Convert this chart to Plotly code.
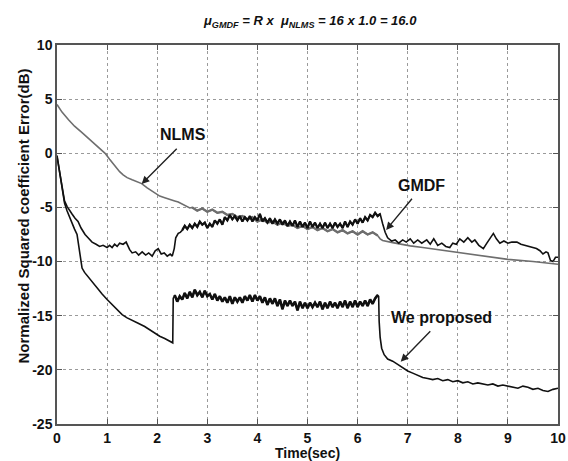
import numpy as np
import plotly.graph_objects as go

# ---------------- data ----------------
# NLMS (gray)
nlms_t = [0.00, 0.10, 0.23, 0.35, 0.50, 0.62, 0.75, 0.85, 0.96, 1.05, 1.15, 1.25, 1.32, 1.40, 1.50,
          1.60, 1.69, 1.80, 1.92, 2.05, 2.15, 2.26, 2.35, 2.42, 2.50, 2.58, 2.65,
          2.7, 2.8, 2.9, 3.0, 3.1, 3.2, 3.3, 3.4, 3.5, 3.6, 3.7, 3.8, 3.9, 4.0, 4.1, 4.2, 4.3, 4.4,
          4.5, 4.6, 4.7, 4.8, 4.9, 5.0, 5.1, 5.2, 5.3, 5.4, 5.5, 5.6, 5.7, 5.8, 5.9, 6.0, 6.1, 6.2,
          6.3, 6.4, 6.45, 6.5, 6.7, 6.9, 7.05, 7.3, 7.6, 8.0, 8.5, 9.0, 9.5, 10.0]
nlms_v = [4.5, 3.8, 3.1, 2.5, 1.9, 1.4, 0.9, 0.4, 0.0, -0.55, -1.15, -1.7, -2.0, -2.25, -2.45,
          -2.6, -2.8, -3.2, -3.6, -3.95, -4.1, -4.3, -4.4, -4.5, -4.7, -4.85, -5.05,
          -5.0, -5.3, -5.1, -5.4, -5.2, -5.5, -5.4, -5.7, -5.6, -5.9, -5.8, -6.1, -5.9, -6.3, -6.1,
          -6.4, -6.3, -6.6, -6.4, -6.7, -6.6, -6.9, -6.7, -7.0, -6.8, -7.1, -6.9, -7.2, -7.0, -7.3,
          -7.1, -7.4, -7.2, -7.5, -7.2, -7.5, -7.3, -7.6, -7.9, -8.05, -8.25, -8.45, -8.55, -8.7,
          -8.9, -9.2, -9.5, -9.8, -10.0, -10.25]

# GMDF (black)
gmdf_t_a = [0.00, 0.05, 0.10, 0.15, 0.20, 0.25, 0.30, 0.36, 0.42, 0.48, 0.56, 0.62, 0.70, 0.78,
            0.85, 0.92, 1.00, 1.05, 1.10, 1.15, 1.20, 1.25, 1.32, 1.38, 1.45, 1.50, 1.57, 1.63,
            1.70, 1.77, 1.83, 1.90, 1.96, 2.02, 2.08, 2.14, 2.20, 2.26, 2.30, 2.34, 2.37, 2.42, 2.46]
gmdf_v_a = [-0.3, -1.8, -3.2, -4.4, -4.9, -5.3, -5.6, -6.0, -6.3, -6.9, -7.5, -7.8, -8.2, -8.4,
            -8.6, -8.5, -8.7, -8.5, -8.7, -8.4, -8.6, -8.3, -8.4, -8.2, -8.9, -9.2, -9.1, -9.4,
            -9.1, -9.4, -9.2, -9.5, -9.0, -8.8, -9.3, -9.2, -9.5, -9.3, -9.5, -8.8, -7.8, -7.4, -7.3]
# noisy band, samples every 0.05 s from 2.50 s to 6.45 s
gmdf_band = [-7.1, -6.7, -7.0, -6.6, -6.9, -6.5, -6.8, -6.3, -6.6, -6.4, -6.9, -6.5, -6.8, -6.2,
             -6.5, -6.1, -6.6, -5.9, -6.2, -5.7, -6.1, -5.8, -6.2, -5.8, -6.3, -5.9, -6.2, -5.8,
             -6.3, -5.9, -6.2, -5.6, -6.3, -6.0, -6.4, -6.0, -6.5, -6.1, -6.5, -6.1, -6.6, -6.2,
             -6.7, -6.3, -6.7, -6.2, -6.8, -6.3, -6.8, -6.4, -6.9, -6.3, -6.8, -6.4, -6.9, -6.5,
             -6.9, -6.4, -6.9, -6.5, -6.9, -6.4, -6.8, -6.5, -6.9, -6.3, -6.8, -6.3, -6.6, -6.1,
             -6.5, -6.0, -6.4, -5.9, -6.2, -5.7, -5.9, -5.5, -5.8, -5.6]
gmdf_t_c = [6.50, 6.55, 6.60, 6.68, 6.75, 6.82, 6.90, 6.97, 7.05, 7.12, 7.20, 7.28, 7.38, 7.45,
            7.52, 7.60, 7.68, 7.76, 7.84, 7.90, 7.97, 8.04, 8.12, 8.20, 8.28, 8.34, 8.42, 8.51,
            8.58, 8.65, 8.71, 8.77, 8.84, 8.92, 9.00, 9.08, 9.18, 9.26, 9.34, 9.42, 9.50, 9.57,
            9.64, 9.70, 9.76, 9.80, 9.85, 9.90, 9.95, 10.0]
gmdf_v_c = [-6.5, -7.3, -7.8, -8.1, -8.0, -8.3, -8.0, -8.2, -7.9, -8.3, -8.0, -8.3, -8.0, -8.4,
            -7.9, -8.5, -8.3, -8.6, -8.7, -8.3, -8.4, -7.9, -8.2, -7.8, -8.2, -8.0, -8.5, -8.8,
            -8.3, -7.8, -7.4, -7.9, -8.3, -8.1, -8.3, -8.2, -8.2, -8.4, -8.5, -8.6, -8.7, -8.8,
            -9.0, -9.3, -9.1, -9.2, -9.9, -10.0, -9.6, -9.6]

# We proposed (black)
prop_t_a = [0.00, 0.05, 0.10, 0.15, 0.20, 0.25, 0.30, 0.35, 0.40, 0.45, 0.50, 0.55, 0.62, 0.70,
            0.80, 0.90, 1.00, 1.10, 1.20, 1.30, 1.40, 1.50, 1.62, 1.75, 1.85, 1.96, 2.05, 2.15,
            2.25, 2.31, 2.32]
prop_v_a = [-0.2, -1.8, -3.3, -4.6, -5.3, -5.9, -6.5, -7.0, -7.5, -9.0, -10.6, -11.0, -11.4,
            -11.9, -12.5, -13.0, -13.5, -14.0, -14.5, -14.9, -15.2, -15.4, -15.7, -16.0, -16.3,
            -16.6, -16.9, -17.1, -17.4, -17.5, -13.4]
# noisy plateau, samples every 0.05 s from 2.35 s to 6.40 s
prop_band = [-13.1, -13.7, -13.2, -13.5, -12.9, -13.4, -12.8, -13.3, -12.6, -13.1,
             -12.8, -13.3, -12.7, -13.2, -13.0, -13.5, -13.0, -13.6, -13.2, -13.7,
             -13.3, -13.8, -13.2, -13.9, -13.3, -13.7, -13.3, -13.8, -13.2, -13.6,
             -13.1, -13.7, -13.1, -13.6, -13.2, -13.8, -13.3, -14.0, -13.4, -13.9,
             -13.4, -14.1, -13.5, -14.4, -13.6, -14.1, -13.6, -14.1, -13.7, -14.5,
             -13.7, -14.3, -13.8, -14.3, -13.8, -14.2, -13.8, -14.2, -13.7, -14.4,
             -13.8, -14.3, -13.7, -14.2, -13.8, -14.3, -13.7, -14.2, -13.6, -14.3,
             -13.7, -14.2, -13.6, -14.2, -13.7, -14.1, -13.6, -14.1, -13.5, -13.9,
             -13.4, -13.1]
prop_t_c = [6.42, 6.43, 6.45, 6.48, 6.53, 6.60, 6.70, 6.80, 6.90, 7.00, 7.10, 7.20, 7.30, 7.40,
            7.50, 7.60, 7.70, 7.80, 7.90, 8.00, 8.10, 8.20, 8.30, 8.40, 8.50, 8.60, 8.70, 8.80,
            8.90, 9.00, 9.10, 9.20, 9.30, 9.40, 9.50, 9.60, 9.70, 9.80, 9.90, 10.0]
prop_v_c = [-13.2, -15.5, -17.0, -18.0, -18.6, -19.0, -19.2, -19.5, -19.8, -20.1, -20.3, -20.5,
            -20.7, -20.8, -20.9, -20.8, -21.0, -20.9, -21.1, -21.0, -21.2, -21.1, -21.3, -21.2,
            -21.3, -21.4, -21.3, -21.5, -21.4, -21.5, -21.6, -21.7, -21.5, -21.6, -21.8, -21.7,
            -21.9, -22.0, -21.8, -21.7]

x_ticks = [0, 1, 2, 3, 4, 5, 6, 7, 8, 9, 10]
y_ticks = [-25, -20, -15, -10, -5, 0, 5, 10]

# ---------------- assemble ----------------
gmdf_band_t = list(np.round(np.arange(len(gmdf_band)) * 0.05 + 2.50, 3))
prop_band_t = list(np.round(np.arange(len(prop_band)) * 0.05 + 2.35, 3))
gmdf_t = gmdf_t_a + gmdf_band_t + gmdf_t_c
gmdf_v = gmdf_v_a + gmdf_band + gmdf_v_c
prop_t = prop_t_a + prop_band_t + prop_t_c
prop_v = prop_v_a + prop_band + prop_v_c

FONT = "Liberation Sans, Arial, sans-serif"
GRAY = "#6e6e6e"
BLACK = "#111111"

fig = go.Figure()
fig.add_trace(go.Scatter(x=nlms_t, y=nlms_v, mode="lines", name="NLMS",
                         line=dict(color=GRAY, width=1.6)))
# thicker overlay for the noisy stretch of NLMS
i0, i1 = nlms_t.index(2.7), nlms_t.index(6.4) + 1
fig.add_trace(go.Scatter(x=nlms_t[i0:i1], y=nlms_v[i0:i1], mode="lines",
                         line=dict(color=GRAY, width=2.4)))
fig.add_trace(go.Scatter(x=gmdf_t, y=gmdf_v, mode="lines", name="GMDF",
                         line=dict(color=BLACK, width=1.6)))
fig.add_trace(go.Scatter(x=gmdf_band_t, y=gmdf_band, mode="lines",
                         line=dict(color=BLACK, width=2.2)))
fig.add_trace(go.Scatter(x=prop_t, y=prop_v, mode="lines", name="We proposed",
                         line=dict(color=BLACK, width=1.6)))
fig.add_trace(go.Scatter(x=prop_band_t, y=prop_band, mode="lines",
                         line=dict(color=BLACK, width=2.6)))

axis_common = dict(showgrid=True, gridcolor="#9a9a9a", griddash="dot", gridwidth=1,
                   showline=True, linecolor="#555555", linewidth=1.5, mirror="ticks",
                   ticks="inside", ticklen=5, tickcolor="#555555", tickwidth=1,
                   zeroline=False,
                   tickfont=dict(family=FONT, size=14, color=BLACK, weight="bold"))

fig.update_xaxes(range=[0, 10], tickvals=x_ticks, ticktext=[str(v) for v in x_ticks],
                 **axis_common)
fig.update_yaxes(range=[-25, 10], tickvals=y_ticks, ticktext=[str(v) for v in y_ticks],
                 **axis_common)

annots = []
# axis titles
annots.append(dict(text="<b>Time(sec)</b>", xref="paper", yref="paper", x=0.5, y=-0.0765,
                   xanchor="center", yanchor="middle", showarrow=False,
                   font=dict(family=FONT, size=14, color=BLACK)))
annots.append(dict(text="<b>Normalized Squared coefficient Error(dB)</b>", xref="paper",
                   yref="paper", x=-0.066, y=0.55, xanchor="center", yanchor="middle",
                   textangle=-90, showarrow=False,
                   font=dict(family=FONT, size=15, color=BLACK)))
# title
annots.append(dict(text="<b><i>μ<sub>GMDF</sub> = R x  μ<sub>NLMS</sub> = 16 x 1.0 = 16.0</i></b>",
                   xref="paper", yref="paper", x=(310 - 57) / 501, y=1 + (45 - 22) / 379,
                   xanchor="center", yanchor="middle", showarrow=False,
                   font=dict(family=FONT, size=13, color=BLACK)))
# labels
for txt, x, y in [("NLMS", 2.52, 1.69), ("GMDF", 7.28, -2.93), ("We proposed", 7.68, -15.14)]:
    annots.append(dict(text="<b>" + txt + "</b>", x=x, y=y, xref="x", yref="y",
                       showarrow=False, xanchor="center", yanchor="middle",
                       font=dict(family=FONT, size=16, color=BLACK)))
# arrows
for tx, ty, hx, hy in [(2.42, 0.55, 1.69, -2.83), (7.11, -4.06, 6.57, -7.08),
                       (7.48, -16.3, 6.86, -19.24)]:
    annots.append(dict(text="", x=hx, y=hy, ax=tx, ay=ty, xref="x", yref="y",
                       axref="x", ayref="y", showarrow=True, arrowhead=2, arrowsize=1.1,
                       arrowwidth=1.4, arrowcolor="#222222"))

fig.update_layout(width=568, height=461, margin=dict(l=57, r=10, t=45, b=37, autoexpand=False),
                  paper_bgcolor="white", plot_bgcolor="white", showlegend=False,
                  annotations=annots, font=dict(family=FONT))

fig.write_html("out.html")
